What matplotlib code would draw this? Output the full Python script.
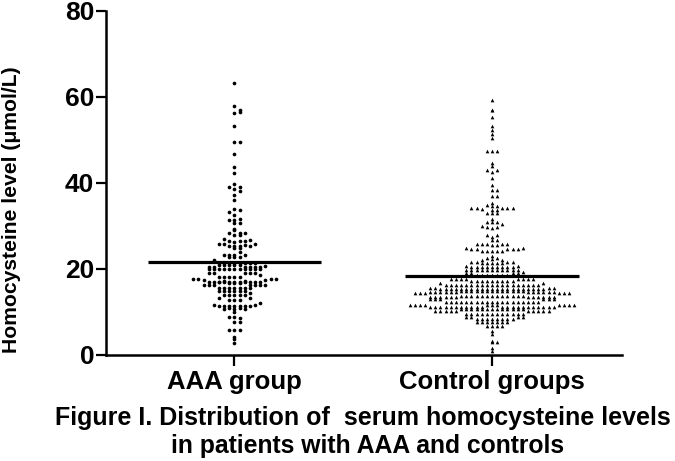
from collections import defaultdict
import matplotlib.pyplot as plt

plt.rcParams['font.family'] = ['Liberation Sans', 'DejaVu Sans']
plt.rcParams['font.weight'] = 'bold'

group_labels = ['AAA group', 'Control groups']
y_ticks = [0, 20, 40, 60, 80]
y_label = 'Homocysteine level (\u03bcmol/L)'
caption_lines = ['Figure I. Distribution of  serum homocysteine levels',
                 'in patients with AAA and controls']
line_values = [21.6, 18.3]

# one line per 1 umol/L bin, listed from the centre of the swarm outwards
aaa_values = (
    2.75, 3.5, 4.15,
    5.7, 5.7, 5.7,
    7.65, 7.65,
    8.8, 8.4, 8.8,
    9.8,
    10.7, 10.9, 10.9, 10.6, 10.5,
    11.3, 11.3, 11.3, 11.2, 11.3, 11.3, 11.3, 11.6, 11.6, 11.9,
    12.6, 12.6, 12.6,
    13.8, 13.8, 13.8, 13.8, 13.8, 13.1, 13.1,
    14.8, 14.8, 14.8, 14.8, 14.8, 14.3, 14.8,
    15.5, 15.5, 15.5, 15.5, 15.5, 15.5, 15.5,
    16.6, 16.6, 16.6, 16.9, 16.9, 16.1, 16.9, 16.1, 16.1, 16.1, 16.1, 16.1, 16.1,
    17.0, 17.0, 17.0, 17.05, 17.05, 17.0, 17.0, 17.0, 17.0, 17.0, 17.0, 17.3, 17.3, 17.7, 17.7, 17.7, 17.7,
    18.1, 18.1, 18.1, 18.9, 18.1, 18.9, 18.1, 18.9, 18.9, 18.6, 18.9,
    19.8, 19.8, 19.8, 19.8, 19.8, 19.8, 19.8, 19.8, 19.8, 19.9, 19.8,
    20.9, 20.9, 20.9, 20.3, 20.9, 20.3, 20.9, 20.3, 20.3, 20.3, 20.3, 20.5,
    21.4, 21.4, 21.4, 21.4, 21.4, 21.4, 21.4, 21.4, 21.95,
    22.7, 22.7, 22.7,
    23.2, 23.9, 23.2, 23.2, 23.2,
    24.9, 24.9,
    25.3, 25.2, 25.3, 25.6, 25.7, 25.3, 25.7, 25.7,
    26.1, 26.5, 26.5, 26.5, 26.9, 26.7,
    27.8, 27.8,
    28.9, 28.3, 28.3, 28.3,
    29.2,
    30.7, 30.7,
    31.4, 31.6, 31.4,
    32.4,
    33.8, 33.6, 33.2,
    36.0, 37.2,
    38.5, 38.1, 38.9,
    39.7, 39.0,
    42.3, 43.6, 46.7,
    49.5, 49.6,
    53.3,
    56.2, 56.5,
    57.9, 57.0,
    63.2,
)

control_values = (
    0.9, 1.4,
    2.8, 2.8,
    3.2, 4.8, 5.5,
    6.7, 6.7, 6.7, 6.7,
    7.6, 7.6, 7.6, 7.6, 7.6, 7.6, 7.6,
    8.2, 8.2, 8.2, 8.2, 8.2, 8.2, 8.2, 8.2, 8.8, 8.8, 8.8, 8.8,
    9.4, 9.4, 9.4, 9.4, 9.4, 9.4, 9.4, 9.4, 9.4, 9.4, 9.4, 9.4,
    10.5, 10.5, 10.5, 10.5, 10.5, 10.5, 10.5, 10.5, 10.5, 10.5, 10.5, 10.5, 10.5,
    10.1, 10.1, 10.1, 10.1, 10.1, 10.1, 10.1, 10.1, 10.1, 10.1,
    11.5, 11.5, 11.5,
    11.1, 11.1, 11.1, 11.1, 11.1, 11.1, 11.1, 11.1, 11.1, 11.1, 11.1,
    11.1, 11.1, 11.1, 11.1, 11.1, 11.1, 11.1, 11.1, 11.1, 11.1, 11.1,
    11.5, 11.5, 11.5, 11.5, 11.5, 11.5, 11.5, 11.5,
    12.2, 12.2, 12.2, 12.2, 12.2, 12.2, 12.2, 12.2, 12.2, 12.2,
    12.2, 12.2, 12.2, 12.2, 12.2, 12.2, 12.2, 12.2, 12.2,
    12.85, 12.85, 12.85, 12.85, 12.85, 12.85,
    13.7, 13.7, 13.7, 13.7, 13.7, 13.7, 13.7, 13.7, 13.7, 13.7, 13.7, 13.7, 13.7,
    13.4, 13.4, 13.4, 13.4, 13.4, 13.4, 13.4, 13.4, 13.4, 13.4, 13.4, 13.4,
    14.8, 14.8, 14.8, 14.8, 14.8, 14.8, 14.8, 14.8, 14.8, 14.8, 14.8, 14.8, 14.8,
    14.6, 14.6, 14.6, 14.6, 14.6, 14.6, 14.6, 14.6, 14.6, 14.6, 14.6, 14.6,
    14.3, 14.3, 14.3, 14.3, 14.3, 14.3,
    15.2, 15.2, 15.2, 15.2, 15.2, 15.2, 15.2, 15.2, 15.2, 15.2, 15.2, 15.2, 15.2,
    15.3, 15.3, 15.3, 15.3, 15.3, 15.3, 15.3, 15.3, 15.4, 15.4, 15.4, 15.4,
    16.2, 16.2, 16.2, 16.2, 16.2, 16.2, 16.2, 16.2, 16.2,
    16.2, 16.2, 16.2, 16.2, 16.2, 16.2, 16.2, 16.2, 16.2, 16.2, 16.6, 16.6,
    17.1, 17.1, 17.1, 17.1, 17.1, 17.1, 17.1, 17.1, 17.1,
    17.7, 17.7, 17.7, 17.7, 17.7, 17.7, 17.7, 17.7,
    18.4, 18.4, 18.4, 18.4, 18.4, 18.4, 18.4, 18.9, 18.9, 18.9, 18.9,
    19.7, 19.7, 19.7, 19.7, 19.7, 19.7, 19.7, 19.7, 19.7, 19.7, 19.7, 19.3,
    20.4, 20.4, 20.4, 20.4, 20.4, 20.4, 20.4, 20.4, 20.4, 20.5, 20.5,
    21.4, 21.4, 21.4, 21.4, 21.4, 21.6, 21.6, 21.6, 21.6,
    22.2, 22.5, 22.5, 22.1, 22.1,
    23.0,
    24.2, 24.2, 24.2, 24.2, 24.2, 24.5, 24.5, 24.5, 24.5, 24.5, 24.9, 24.9,
    25.4, 25.4, 25.7, 25.7, 25.7, 25.7, 25.7,
    26.7, 26.7,
    27.3, 27.9, 27.9,
    29.4, 29.6, 29.6,
    30.9, 30.9, 30.9, 30.4, 30.0,
    31.5,
    32.9, 32.9, 32.9,
    33.7, 33.7,
    34.6, 34.6, 34.9, 34.2, 34.0, 34.1, 34.1, 34.1, 34.1,
    35.4, 36.9, 36.9,
    38.2, 38.2,
    39.5, 41.1,
    42.5, 42.9, 42.9,
    43.8, 44.7,
    47.5, 47.5, 47.5,
    50.5, 51.4, 52.3, 53.3, 55.4,
    56.9, 57.0,
    59.2,
)


def swarm_offsets(values, step=0.02):
    """Prism style swarm: values in a 1 unit bin go centre, right, left, right..."""
    seen = defaultdict(int)
    offsets = []
    for v in values:
        n = seen[int(v)]
        seen[int(v)] += 1
        col = (n + 1) // 2 if n % 2 else -(n // 2)
        offsets.append(col * step)
    return offsets


fig = plt.figure(figsize=(6.75, 4.61), dpi=100)
ax = fig.add_axes([106 / 675, (461 - 354.5) / 461, (622 - 106) / 675, (354.5 - 11) / 461])

x0 = [0 + o for o in swarm_offsets(aaa_values)]
x1 = [1 + o for o in swarm_offsets(control_values)]
ax.scatter(x0, aaa_values, s=7, c='black', marker='o', linewidths=0, zorder=2)
ax.scatter(x1, control_values, s=7, c='black', marker='^', linewidths=0, zorder=2)

for i, v in enumerate(line_values):
    ax.hlines(v, i - 0.337, i + 0.337, colors='black', linewidth=2.3, zorder=3)

ax.set_xlim(-0.499, 1.505)
ax.set_ylim(0, 80)
ax.set_xticks([0, 1])
ax.set_xticklabels(group_labels, fontsize=18.5, fontweight='bold')
ax.set_yticks(y_ticks)
ax.tick_params(axis='y', labelsize=19, length=7.5, width=1.6, pad=1)
ax.tick_params(axis='x', length=8, width=1.6, pad=3)
ax.spines['top'].set_visible(False)
ax.spines['right'].set_visible(False)
ax.spines['left'].set_linewidth(1.8)
ax.spines['bottom'].set_linewidth(1.8)

fig.text(12 / 675, 1 - 210 / 461, y_label, rotation=90, fontsize=15.2, fontweight='bold',
         ha='center', va='center')
fig.text(363 / 675, 1 - 418 / 461, caption_lines[0], fontsize=18, fontweight='bold',
         ha='center', va='center')
fig.text(368 / 675, 1 - 446 / 461, caption_lines[1], fontsize=17.8, fontweight='bold',
         ha='center', va='center')

fig.savefig('out.png', dpi=100)
